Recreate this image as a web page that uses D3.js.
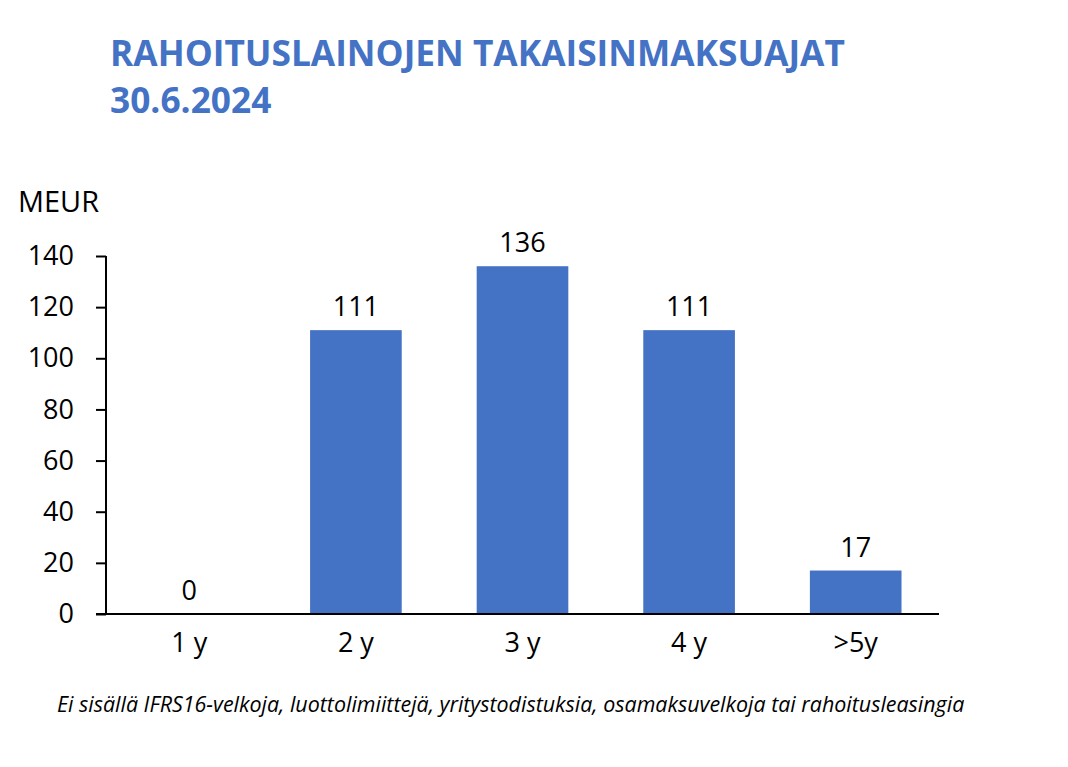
<!DOCTYPE html>
<html>
<head>
<meta charset="utf-8">
<script src="https://cdn.jsdelivr.net/npm/d3@7"></script>
<style>
  body { margin: 0; background: #fff; }
  text { font-family: "Open Sans", "Noto Sans", sans-serif; }
</style>
</head>
<body>
<div id="chart"></div>
<script>
const categories = ["1 y", "2 y", "3 y", "4 y", ">5y"];
const values = [0, 111, 136, 111, 17];
const yTicks = [0, 20, 40, 60, 80, 100, 120, 140];
const titleLines = ["RAHOITUSLAINOJEN TAKAISINMAKSUAJAT", "30.6.2024"];
const unitLabel = "MEUR";
const footnote = "Ei sisällä IFRS16-velkoja, luottolimiittejä, yritystodistuksia, osamaksuvelkoja tai rahoitusleasingia";

const width = 1068;
const height = 767;
const margin = {top: 256, right: 129, bottom: 153, left: 106};
const innerW = width - margin.left - margin.right;
const innerH = height - margin.top - margin.bottom;
const blue = "#4472C4";

// shrink/grow font so the text spans the wanted width
function fitWidth(sel, target) {
    const node = sel.node();
    const size = parseFloat(sel.style("font-size"));
    const len = node.getComputedTextLength();
    sel.style("font-size", (size * target / len).toFixed(2) + "px");
}

const svg = d3.select("#chart").append("svg")
    .attr("width", width)
    .attr("height", height);

const t1 = svg.append("text")
    .attr("x", 110).attr("y", 66)
    .style("font-size", "30px").style("font-weight", "bold")
    .attr("fill", blue)
    .text(titleLines[0]);
fitWidth(t1, 735);

svg.append("text")
    .attr("x", 110).attr("y", 113)
    .style("font-size", t1.style("font-size")).style("font-weight", "bold")
    .attr("fill", blue)
    .text(titleLines[1]);

const unit = svg.append("text")
    .attr("x", 18).attr("y", 212)
    .style("font-size", "26px")
    .attr("fill", "#000")
    .text(unitLabel);
fitWidth(unit, 81);

const g = svg.append("g")
    .attr("transform", `translate(${margin.left},${margin.top})`);

const x = d3.scaleBand()
    .domain(categories)
    .range([0, innerW])
    .paddingInner(0.45)
    .paddingOuter(0.225);

const y = d3.scaleLinear()
    .domain([0, 140])
    .range([innerH, 0]);

const yAxis = g.append("g")
    .call(d3.axisLeft(y).tickValues(yTicks).tickSize(10).tickPadding(22));
yAxis.selectAll("path, line").attr("stroke", "#000").attr("stroke-width", 2);
yAxis.select(".domain").attr("d", `M0,${y(140)}V${y(0)}`);
yAxis.selectAll("text")
    .style("font-family", "'Open Sans', sans-serif")
    .style("font-size", "27px")
    .attr("fill", "#000");

g.selectAll(".bar")
    .data(values)
    .enter()
    .append("rect")
    .attr("class", "bar")
    .attr("x", (d, i) => x(categories[i]))
    .attr("y", d => y(d))
    .attr("width", x.bandwidth())
    .attr("height", d => innerH - y(d))
    .attr("fill", blue);

const xAxis = g.append("g")
    .attr("transform", `translate(0,${innerH})`)
    .call(d3.axisBottom(x).tickSize(0).tickPadding(19));
xAxis.select(".domain").attr("stroke", "#000").attr("stroke-width", 2)
    .attr("d", `M-10,0H${innerW}`);
xAxis.selectAll("text")
    .style("font-family", "'Open Sans', sans-serif")
    .style("font-size", "27px")
    .attr("fill", "#000")
    .attr("dy", "0.71em");

g.selectAll(".label")
    .data(values)
    .enter()
    .append("text")
    .attr("class", "label")
    .attr("x", (d, i) => x(categories[i]) + x.bandwidth() / 2)
    .attr("y", d => y(d) - 14)
    .attr("text-anchor", "middle")
    .style("font-size", "27px")
    .attr("fill", "#000")
    .text(d => d);

const note = svg.append("text")
    .attr("x", 57).attr("y", 712)
    .style("font-size", "18px").style("font-style", "italic")
    .attr("fill", "#000")
    .text(footnote);
fitWidth(note, 908);
</script>
</body>
</html>
